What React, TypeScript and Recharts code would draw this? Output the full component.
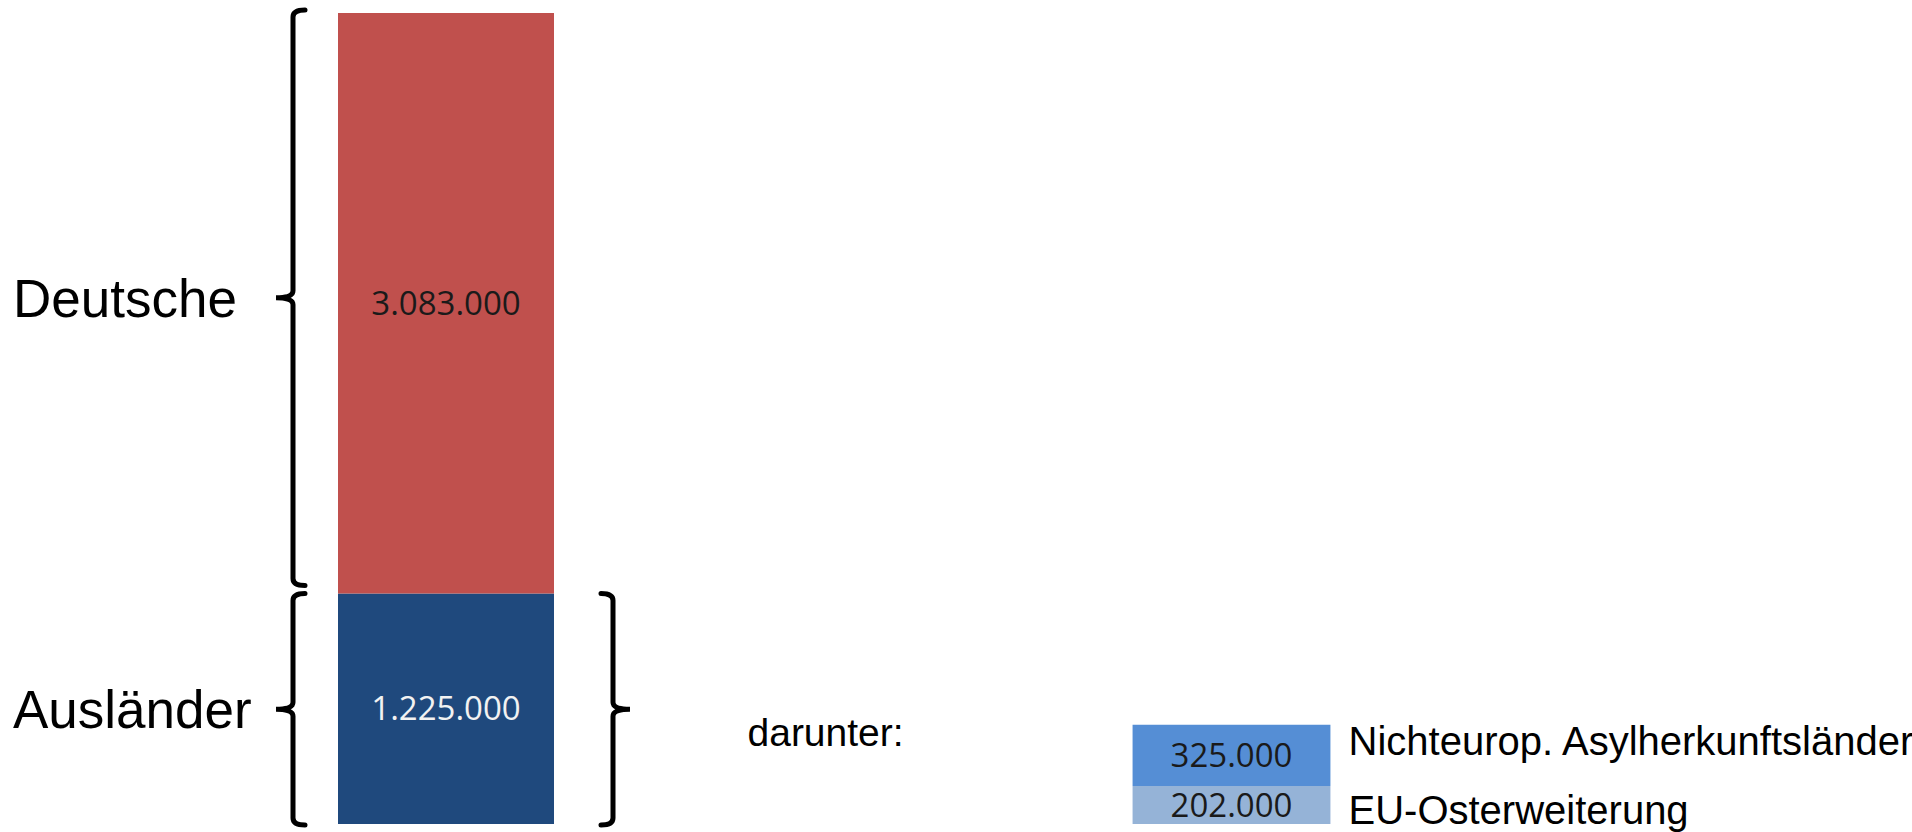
import React from 'react';
import { BarChart, Bar, XAxis, YAxis, LabelList, Rectangle } from 'recharts';

// Werte (Personen)
const categories = ['Gesamt', 'darunter'];
const auslaender = [1225000, null];
const deutsche = [3083000, null];
const euOsterweiterung = [null, 202000];
const nichteuropAsyl = [null, 325000];

const seriesNames = {
    auslaender: 'Ausländer',
    deutsche: 'Deutsche',
    euOsterweiterung: 'EU-Osterweiterung',
    nichteuropAsyl: 'Nichteurop. Asylherkunftsländer',
};
const subHeading = 'darunter:';

const data = categories.map((name, i) => ({
    name,
    auslaender: auslaender[i],
    deutsche: deutsche[i],
    euOsterweiterung: euOsterweiterung[i],
    nichteuropAsyl: nichteuropAsyl[i],
}));
const total = (deutsche[0] ?? 0) + (auslaender[0] ?? 0);

const ARIAL = '"Liberation Sans", Arial, sans-serif';
const NUMFONT = '"Open Sans", "Liberation Sans", sans-serif';

const fmt = (v: number) => String(v).replace(/\B(?=(\d{3})+(?!\d))/g, '.');

const box = (p: any) => {
    const vb = p.viewBox && p.viewBox.width != null ? p.viewBox : p;
    return { x: Number(vb.x), y: Number(vb.y), width: Number(vb.width), height: Number(vb.height) };
};

// geschweifte Klammer: dir=1 -> "{", dir=-1 -> "}"
function bracePath(vx: number, top: number, bottom: number, dir: number) {
    const mid = (top + bottom) / 2;
    const hook = 12 * dir;
    const tip = -17 * dir;
    const r = 7;
    return `M ${vx + hook} ${top} Q ${vx} ${top} ${vx} ${top + r} L ${vx} ${mid - r} Q ${vx} ${mid} ${vx + tip} ${mid} Q ${vx} ${mid} ${vx} ${mid + r} L ${vx} ${bottom - r} Q ${vx} ${bottom} ${vx + hook} ${bottom}`;
}

const valueLabel = (color: string) => (props: any) => {
    if (props.value == null) return null;
    const { x, y, width, height } = box(props);
    return (
        <text x={x + width / 2} y={y + height / 2} dy="0.35em" textAnchor="middle" fill={color} fontSize={33} fontFamily={NUMFONT}>
            {fmt(props.value)}
        </text>
    );
};

const groupLabel = (name: string, topPad: number, bottomPad: number, rightBrace: boolean) => (props: any) => {
    if (props.value == null) return null;
    const { x, y, width, height } = box(props);
    const top = y + topPad;
    const bottom = y + height + bottomPad;
    const mid = (top + bottom) / 2;
    return (
        <g>
            <path d={bracePath(x - 45, top, bottom, 1)} fill="none" stroke="#000" strokeWidth={5} strokeLinecap="round" />
            {rightBrace && (
                <path d={bracePath(x + width + 59, top, bottom, -1)} fill="none" stroke="#000" strokeWidth={5} strokeLinecap="round" />
            )}
            <text x={x - 325} y={mid + 19} fill="#000" fontSize={53} fontFamily={ARIAL}>
                {name}
            </text>
        </g>
    );
};

const sideLabel = (name: string, dy: number, heading?: string) => (props: any) => {
    if (props.value == null) return null;
    const { x, y, width, height } = box(props);
    return (
        <g>
            <text x={x + width + 9} y={y + height / 2 + dy + 14} fill="#000" fontSize={40} fontFamily={ARIAL}>
                {name}
            </text>
            {heading && (
                <text x={x - 376} y={y + 21} fill="#000" fontSize={39} fontFamily={ARIAL}>
                    {heading}
                </text>
            )}
        </g>
    );
};

// kleinere Balken der Aufschlüsselung etwas schmaler
const narrowShape = (p: any) => (
    <Rectangle x={p.x + p.width * 0.042} y={p.y} width={p.width * 0.916} height={p.height} fill={p.fill} />
);

export default function App() {
    return (
        <div style={{ position: 'absolute', left: 0, top: 0, width: 1912, height: 832, background: '#fff' }}>
            <BarChart width={1912} height={832} data={data} margin={{ top: 13, right: 288, bottom: 8, left: 53 }}>
                <XAxis dataKey="name" hide />
                <YAxis hide domain={[0, total]} />
                <Bar dataKey="auslaender" stackId="a" fill="#1F497D" barSize={216} isAnimationActive={false}>
                    <LabelList dataKey="auslaender" content={valueLabel('#F2F2F2')} />
                    <LabelList dataKey="auslaender" content={groupLabel(seriesNames.auslaender, 0, 1, true)} />
                </Bar>
                <Bar dataKey="deutsche" stackId="a" fill="#C0504D" barSize={216} isAnimationActive={false}>
                    <LabelList dataKey="deutsche" content={valueLabel('#1A1A1A')} />
                    <LabelList dataKey="deutsche" content={groupLabel(seriesNames.deutsche, -3, -8, false)} />
                </Bar>
                <Bar dataKey="euOsterweiterung" stackId="a" fill="#95B3D7" barSize={216} shape={narrowShape} isAnimationActive={false}>
                    <LabelList dataKey="euOsterweiterung" content={valueLabel('#1A1A1A')} />
                    <LabelList dataKey="euOsterweiterung" content={sideLabel(seriesNames.euOsterweiterung, 5)} />
                </Bar>
                <Bar dataKey="nichteuropAsyl" stackId="a" fill="#558ED5" barSize={216} shape={narrowShape} isAnimationActive={false}>
                    <LabelList dataKey="nichteuropAsyl" content={valueLabel('#1A1A1A')} />
                    <LabelList dataKey="nichteuropAsyl" content={sideLabel(seriesNames.nichteuropAsyl, -14, subHeading)} />
                </Bar>
            </BarChart>
        </div>
    );
}
